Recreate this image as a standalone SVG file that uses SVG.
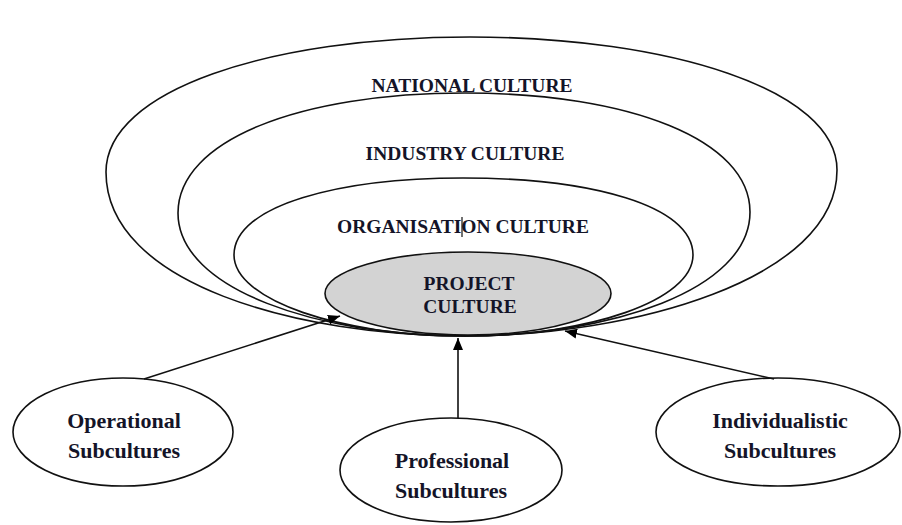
<svg xmlns="http://www.w3.org/2000/svg" width="902" height="525" viewBox="0 0 902 525">
<defs>
<marker id="arr" viewBox="0 0 12 10" refX="12" refY="5" markerWidth="12" markerHeight="10" markerUnits="userSpaceOnUse" orient="auto">
<path d="M0,0 L12,5 L0,10 Z" fill="#000"/>
</marker>
</defs>
<style>
.ring{fill:none;stroke:#111;stroke-width:1.6}
.node{fill:#fff;stroke:#111;stroke-width:1.6}
.proj{fill:#d3d3d3;stroke:#111;stroke-width:1.6}
.cap{font-family:"Liberation Serif","Times New Roman",serif;font-weight:bold;font-size:19.5px;fill:#141428;text-anchor:middle}
.sub{font-family:"Liberation Serif","Times New Roman",serif;font-weight:bold;font-size:22px;fill:#141428;text-anchor:middle}
.conn{stroke:#111;stroke-width:1.6;fill:none;marker-end:url(#arr)}
</style>
<g id="national">
<path class="ring" d="M465,336 C300,336 106,285 106,172 C106,90 270,37 470,37 C670,37 837,90 837,170 C837,280 630,336 465,336 Z"/>
<text class="cap" x="472" y="92">NATIONAL CULTURE</text>
</g>
<g id="industry">
<path class="ring" d="M465,336 C320,336 178,290 178,213 C178,140 300,93 465,93 C630,93 750,140 750,212 C750,290 610,336 465,336 Z"/>
<text class="cap" x="465" y="160">INDUSTRY CULTURE</text>
</g>
<g id="organisation">
<path class="ring" d="M465,336 C340,336 234,300 234,255 C234,205 340,178 463,178 C590,178 693,205 693,255 C693,300 590,336 465,336 Z"/>
<text class="cap" x="463" y="233">ORGANISATION CULTURE</text>
<line x1="462" y1="217" x2="462" y2="237" stroke="#111" stroke-width="1.2"/>
</g>
<g id="project">
<ellipse class="proj" cx="468" cy="293.5" rx="143" ry="41.5"/>
<text class="cap" x="469" y="290">PROJECT</text>
<text class="cap" x="470" y="313">CULTURE</text>
</g>
<g id="operational">
<ellipse class="node" cx="123" cy="432" rx="110" ry="54"/>
<text class="sub" x="124" y="428">Operational</text>
<text class="sub" x="124" y="458">Subcultures</text>
</g>
<g id="professional">
<ellipse class="node" cx="451" cy="470" rx="111" ry="52"/>
<text class="sub" x="452" y="468">Professional</text>
<text class="sub" x="451" y="498">Subcultures</text>
</g>
<g id="individualistic">
<ellipse class="node" cx="778" cy="432" rx="122" ry="54"/>
<text class="sub" x="780" y="428">Individualistic</text>
<text class="sub" x="780" y="458">Subcultures</text>
</g>
<g id="connectors">
<line class="conn" x1="144" y1="379" x2="340" y2="316"/>
<line class="conn" x1="458" y1="418" x2="458" y2="338"/>
<line class="conn" x1="774" y1="379" x2="565" y2="331"/>
</g>
</svg>
